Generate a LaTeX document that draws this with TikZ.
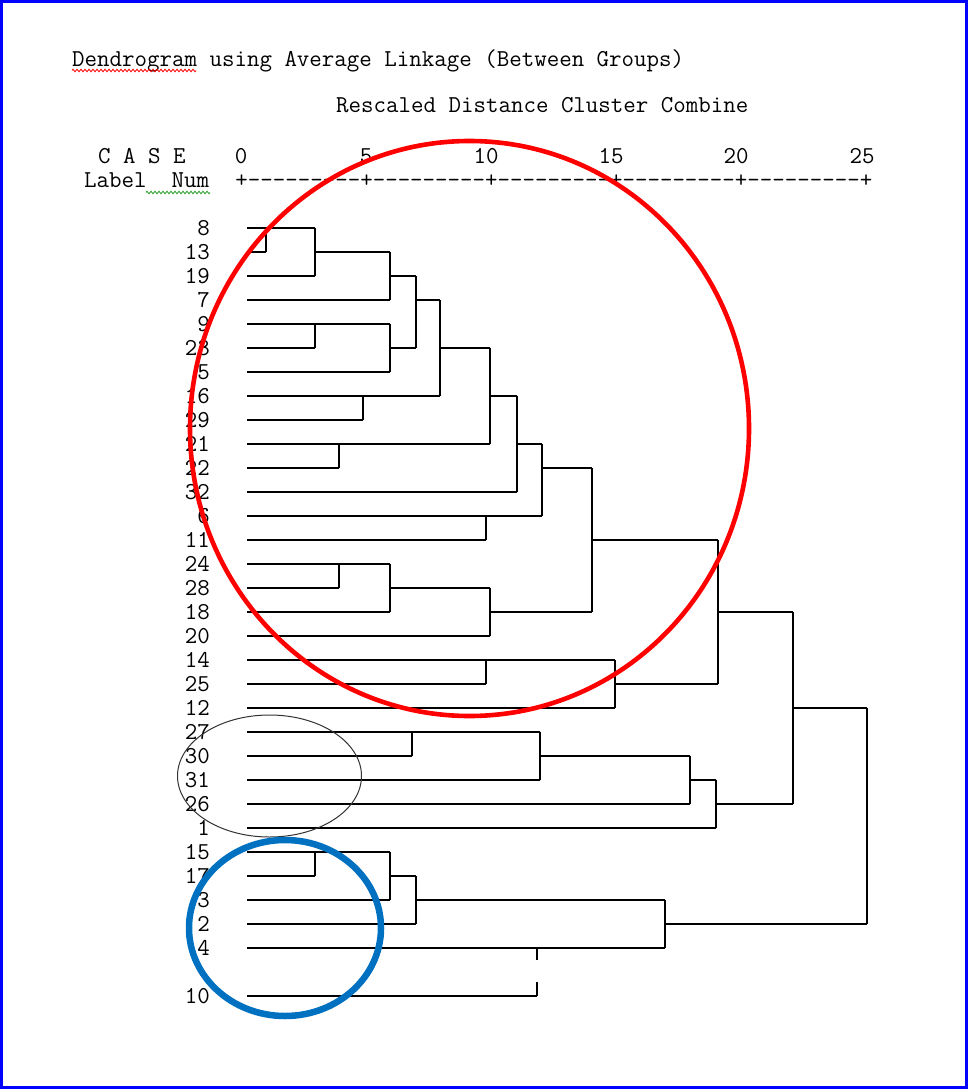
\documentclass[tikz,border=0pt]{standalone}
\usepackage{fontspec}
\newfontfamily\monof{Latin Modern Mono}
\usetikzlibrary{decorations.pathmorphing}
\definecolor{circblue}{RGB}{0,112,192}
\definecolor{frameblue}{RGB}{0,0,255}
\definecolor{spellgreen}{RGB}{40,160,40}
\newcommand\ninedash{-\kern0pt-\kern0pt-\kern0pt-\kern0pt-\kern0pt-\kern0pt-\kern0pt-\kern0pt-\kern0pt}
\begin{document}
\begin{tikzpicture}[x=1pt,y=-1pt,
  dl/.style={line width=1.4pt, black, line cap=square},
  txt/.style={font=\monof\fontsize{24.25}{27}\selectfont, inner sep=0pt, anchor=base west},
  num/.style={font=\monof\fontsize{24.25}{27}\selectfont, inner sep=0pt, anchor=base},
  lab/.style={font=\monof\fontsize{24.25}{27}\selectfont, inner sep=0pt, anchor=east},
  squig/.style={decorate, decoration={zigzag, segment length=4pt, amplitude=1.3pt}, line width=0.8pt}]
\useasboundingbox (0,0) rectangle (968,1089);
\fill[white] (0,0) rectangle (968,1089);
\draw[frameblue, line width=3.2pt] (1.6,1.6) rectangle (966.4,1087.4);

% header texts
\node[txt] (title) at (72,67) {Dendrogram using Average Linkage (Between Groups)};
\draw[red, squig] (72,70.5) -- (196,70.5);
\node[txt] (resc) at (336,113) {Rescaled Distance Cluster Combine};
\node[txt] (case) at (98,163) {C A S E};
\node[txt] (lbl) at (84,187) {Label~~Num};
\draw[spellgreen, squig] (146,192.5) -- (210,192.5);
\node[num] (t0) at (241,163) {0};
\node[num] (t5) at (366,163) {5};
\node[num] (t10) at (486,163) {10};
\node[num] (t15) at (611,163) {15};
\node[num] (t20) at (736,163) {20};
\node[num] (t25) at (862,163) {25};
\node[txt] (axis) at (235.2,187) {+\ninedash+\ninedash+\ninedash+\ninedash+\ninedash+};

% case labels
\foreach \n/\i in {8/0,13/1,19/2,7/3,9/4,23/5,5/6,16/7,29/8,21/9,22/10,32/11,6/12,11/13,24/14,28/15,18/16,20/17,14/18,25/19,12/20,27/21,30/22,31/23,26/24,1/25,15/26,17/27,3/28,2/29,4/30,10/32}
  \node[lab] (c\n) at (210,{228+24*\i}) {\n};

% horizontal segments: y / x1 / x2
\foreach \y/\a/\b in {228/247/315, 252/247/266, 276/247/315, 252/315/390, 300/247/390,
  276/390/416, 324/247/390, 348/247/315, 372/247/390, 348/390/416, 300/416/440,
  396/247/440, 420/247/363, 348/440/490, 444/247/490, 468/247/339, 396/490/517,
  492/247/517, 444/517/542, 516/247/542, 540/247/486, 468/542/592, 564/247/390,
  588/247/339, 612/247/390, 588/390/490, 636/247/490, 612/490/592, 540/592/718,
  660/247/615, 684/247/486, 708/247/615, 684/615/718, 612/718/793,
  732/247/540, 756/247/412, 780/247/540, 756/540/690, 804/247/690, 780/690/716,
  828/247/716, 804/716/793, 708/793/867,
  852/247/390, 876/247/315, 900/247/390, 876/390/416, 924/247/416, 900/416/665,
  948/247/665, 924/665/867, 996/247/537}
  \draw[dl] (\a,\y) -- (\b,\y);

% vertical segments: x / y1 / y2
\foreach \x/\a/\b in {266/228/252, 315/228/276, 390/252/300, 315/324/348, 390/324/372,
  416/276/348, 363/396/420, 440/300/396, 339/444/468, 490/348/444, 517/396/492,
  486/516/540, 542/444/516, 339/564/588, 390/564/612, 490/588/636, 592/468/612,
  486/660/684, 615/660/708, 718/540/684, 412/732/756, 540/732/780, 690/756/804,
  716/780/828, 793/612/804, 315/852/876, 390/852/900, 416/876/924, 665/900/948,
  867/708/924, 537/948/960, 537/982/996}
  \draw[dl] (\x,\a) -- (\x,\b);

% highlight ellipses
\draw[red, line width=4.6pt] (469.5,428.5) ellipse [x radius=279.5pt, y radius=287.5pt];
\draw[black!80, line width=1pt] (269.5,776) ellipse [x radius=92pt, y radius=61pt];
\draw[circblue, line width=6.5pt] (285,928) ellipse [x radius=96pt, y radius=88pt];
\end{tikzpicture}
\end{document}
